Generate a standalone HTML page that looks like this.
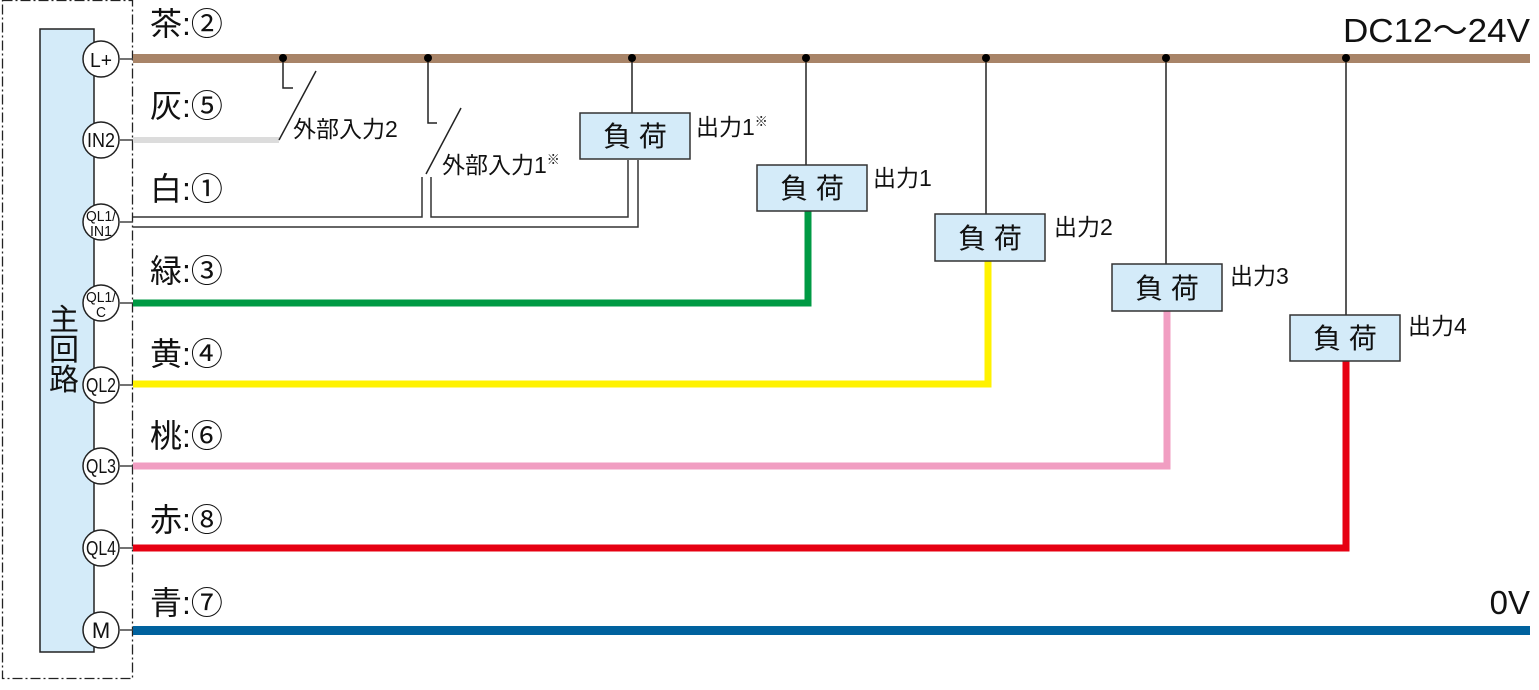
<!DOCTYPE html>
<html><head><meta charset="utf-8"><style>
html,body{margin:0;padding:0;background:#fff;}
svg{display:block;}
text{font-family:"Liberation Sans","Noto Sans CJK JP",sans-serif;fill:#111;}
</style></head><body>
<svg width="1539" height="690" viewBox="0 0 1539 690" xmlns="http://www.w3.org/2000/svg">
<rect x="2.5" y="0.5" width="130" height="678" fill="none" stroke="#222" stroke-width="1.3" stroke-dasharray="10,3,2,3"/>
<rect x="40" y="29" width="54" height="623" fill="#d4ebf9" stroke="#222" stroke-width="1.5"/>
<text x="64" y="330" font-size="30" text-anchor="middle">主</text>
<text x="64" y="360" font-size="30" text-anchor="middle">回</text>
<text x="64" y="390" font-size="30" text-anchor="middle">路</text>

<g stroke="#444" stroke-width="1.5">
<line x1="120" y1="59" x2="133" y2="59"/>
<line x1="120" y1="140" x2="133" y2="140"/>
<line x1="120" y1="222" x2="133" y2="222"/>
<line x1="120" y1="303" x2="133" y2="303"/>
<line x1="120" y1="385" x2="133" y2="385"/>
<line x1="120" y1="466" x2="133" y2="466"/>
<line x1="120" y1="548" x2="133" y2="548"/>
<line x1="120" y1="630" x2="133" y2="630"/>
</g>

<rect x="133" y="54" width="1397" height="9" fill="#a88468"/>
<rect x="133" y="137" width="146" height="6" fill="#dcdcdc"/>
<polyline points="133,303 808,303 808,210" fill="none" stroke="#009a44" stroke-width="7"/>
<polyline points="133,384 988,384 988,261" fill="none" stroke="#fff200" stroke-width="7"/>
<polyline points="133,466 1167,466 1167,311" fill="none" stroke="#f19ec2" stroke-width="7"/>
<polyline points="133,548 1346,548 1346,361" fill="none" stroke="#e60012" stroke-width="7"/>
<rect x="133" y="626" width="1397" height="9" fill="#00629e"/>

<g fill="none" stroke="#333" stroke-width="1.5">
<polyline points="133,217 422,217 422,177"/>
<polyline points="431,177 431,217 628,217 628,160"/>
<polyline points="133,227 638,227 638,160"/>
</g>

<g fill="none" stroke="#222" stroke-width="1.5">
<polyline points="283,58 283,88 293,88"/>
<line x1="316" y1="71" x2="279" y2="140"/>
<polyline points="428,58 428,123 437,123"/>
<line x1="461" y1="108" x2="426" y2="174"/>
<line x1="632" y1="58" x2="632" y2="113"/>
<line x1="806" y1="58" x2="806" y2="165"/>
<line x1="986" y1="58" x2="986" y2="214"/>
<line x1="1166" y1="58" x2="1166" y2="264"/>
<line x1="1346" y1="58" x2="1346" y2="315"/>
</g>
<g fill="#000">
<circle cx="283" cy="58" r="4"/><circle cx="428" cy="58" r="4"/><circle cx="632" cy="58" r="4"/>
<circle cx="806" cy="58" r="4"/><circle cx="986" cy="58" r="4"/><circle cx="1166" cy="58" r="4"/><circle cx="1346" cy="58" r="4"/>
</g>
<text x="293" y="137" font-size="23">外部入力2</text>
<text x="442" y="173" font-size="23">外部入力1<tspan font-size="13" dy="-9">※</tspan></text>

<g fill="#d4ebf9" stroke="#333" stroke-width="1.5">
<rect x="580" y="113" width="110" height="46"/>
<rect x="757" y="165" width="110" height="46"/>
<rect x="935" y="214" width="110" height="47"/>
<rect x="1112" y="264" width="110" height="47"/>
<rect x="1290" y="315" width="110" height="46"/>
</g>
<g font-size="28" text-anchor="middle">
<text x="635" y="146">負 荷</text>
<text x="812" y="198">負 荷</text>
<text x="990" y="248">負 荷</text>
<text x="1167" y="298">負 荷</text>
<text x="1345" y="348">負 荷</text>
</g>
<g font-size="23">
<text x="696" y="135">出力1<tspan font-size="13" dy="-9">※</tspan></text>
<text x="873" y="186">出力1</text>
<text x="1054" y="235">出力2</text>
<text x="1230" y="284">出力3</text>
<text x="1408" y="334">出力4</text>
</g>

<g font-size="32">
<text x="150" y="35">茶:②</text>
<text x="150" y="117">灰:⑤</text>
<text x="150" y="200">白:①</text>
<text x="150" y="282">緑:③</text>
<text x="150" y="365">黄:④</text>
<text x="150" y="447">桃:⑥</text>
<text x="150" y="531">赤:⑧</text>
<text x="150" y="614">青:⑦</text>
</g>
<text x="1343" y="42" font-size="33" textLength="187" lengthAdjust="spacingAndGlyphs">DC12〜24V</text>
<text x="1530" y="614" font-size="33" text-anchor="end">0V</text>

<g fill="#fff" stroke="#222" stroke-width="1.5">
<circle cx="101" cy="59" r="18"/><circle cx="101" cy="140" r="18"/><circle cx="101" cy="222" r="18"/>
<circle cx="101" cy="303" r="18"/><circle cx="101" cy="385" r="18"/><circle cx="101" cy="466" r="18"/>
<circle cx="101" cy="548" r="18"/><circle cx="101" cy="630" r="18"/>
</g>
<g text-anchor="middle" font-size="20">
<text x="101" y="67" textLength="22" lengthAdjust="spacingAndGlyphs">L+</text>
<text x="101" y="147" textLength="28" lengthAdjust="spacingAndGlyphs">IN2</text>
<text x="101" y="221" font-size="15" textLength="30" lengthAdjust="spacingAndGlyphs">QL1/</text>
<text x="101" y="236" font-size="15" textLength="22" lengthAdjust="spacingAndGlyphs">IN1</text>
<text x="101" y="302" font-size="15" textLength="30" lengthAdjust="spacingAndGlyphs">QL1/</text>
<text x="101" y="317" font-size="15" textLength="10" lengthAdjust="spacingAndGlyphs">C</text>
<text x="101" y="392" textLength="30" lengthAdjust="spacingAndGlyphs">QL2</text>
<text x="101" y="473" textLength="30" lengthAdjust="spacingAndGlyphs">QL3</text>
<text x="101" y="555" textLength="30" lengthAdjust="spacingAndGlyphs">QL4</text>
<text x="101" y="638" font-size="22">M</text>
</g>
</svg>
</body></html>
